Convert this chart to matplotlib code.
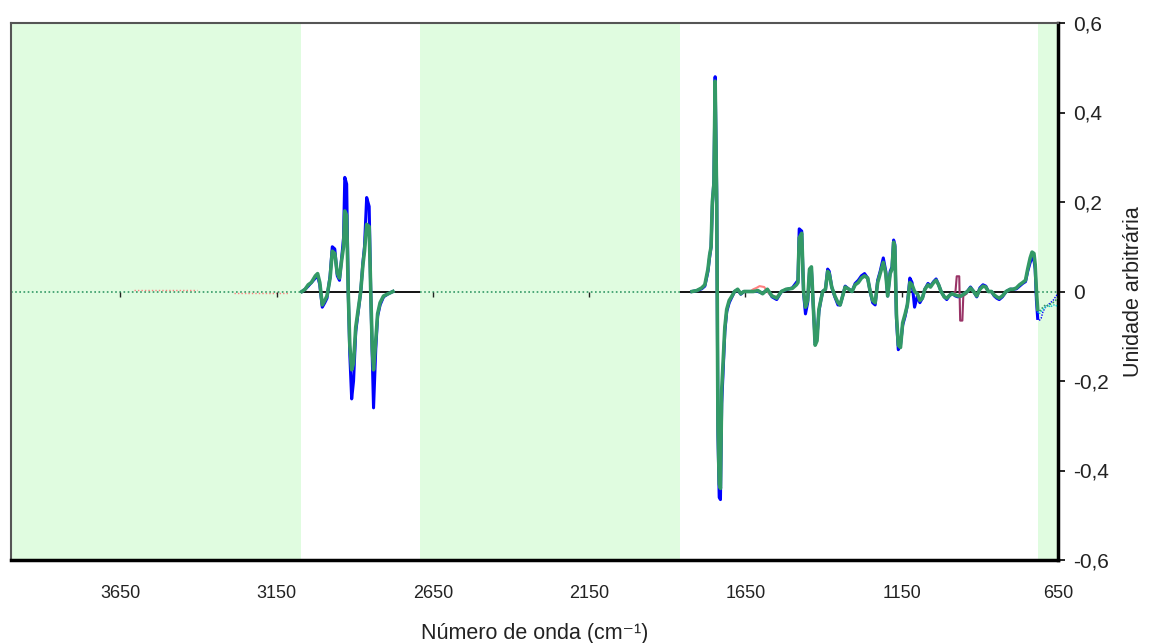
import matplotlib
matplotlib.use('Agg')
import matplotlib.pyplot as plt

plt.rcParams['font.family'] = ['Liberation Sans', 'DejaVu Sans']

# C-H stretching window
ch_wn = [3069, 3059, 3049, 3039, 3026, 3019, 3012, 3004, 2996, 2989,
         2979, 2972, 2964, 2956, 2949, 2942, 2936, 2932, 2926, 2921,
         2916, 2910, 2904, 2897, 2889, 2881, 2874, 2869, 2862, 2854,
         2849, 2844, 2840, 2833, 2827, 2819, 2808, 2793, 2778]
ch_green = [0.0, 0.005, 0.015, 0.02, 0.035, 0.04, 0.02, -0.03, -0.02, -0.01,
            0.03, 0.09, 0.085, 0.04, 0.03, 0.07, 0.10, 0.18, 0.17, 0.0,
            -0.12, -0.175, -0.16, -0.08, -0.04, 0.0, 0.06, 0.09, 0.15, 0.145,
            0.0, -0.13, -0.175, -0.11, -0.05, -0.025, -0.01, -0.005, 0.0]
ch_blue = [0.0, 0.005, 0.012, 0.02, 0.03, 0.035, 0.015, -0.035, -0.025, -0.015,
           0.035, 0.10, 0.095, 0.035, 0.025, 0.075, 0.12, 0.255, 0.24, 0.0,
           -0.14, -0.24, -0.2, -0.09, -0.045, 0.0, 0.065, 0.1, 0.21, 0.19,
           0.0, -0.15, -0.26, -0.13, -0.055, -0.03, -0.012, -0.005, 0.0]

# fingerprint window
fp_wn = [1821, 1806, 1790, 1780, 1770, 1765, 1760, 1756, 1751, 1747,
         1742, 1738, 1734, 1730, 1726, 1721, 1716, 1710, 1702, 1693,
         1685, 1675, 1665, 1655, 1640, 1625, 1610, 1595, 1580, 1565,
         1550, 1535, 1520, 1500, 1487, 1482, 1478, 1470, 1464, 1458,
         1451, 1445, 1439, 1433, 1427, 1421, 1415, 1409, 1403, 1394,
         1387, 1382, 1374, 1364, 1354, 1347, 1339, 1331, 1319, 1309,
         1299, 1289, 1279, 1269, 1259, 1251, 1243, 1235, 1227, 1219,
         1209, 1201, 1195, 1187, 1181, 1176, 1172, 1167, 1161, 1154,
         1147, 1139, 1132, 1124, 1117, 1109, 1100, 1092, 1084, 1076,
         1066, 1058, 1048, 1040, 1032, 1024, 1014, 1006, 996, 988,
         978, 970, 960, 950, 940, 930, 920, 910, 900, 890,
         881, 873, 863, 854, 846, 838, 828, 816, 803, 793,
         783, 773, 763, 754, 747, 739, 733, 727, 723, 719,
         715]
fp_green = [0.0, 0.002, 0.008, 0.015, 0.05, 0.08, 0.1, 0.2, 0.24, 0.47,
            0.2, -0.3, -0.43, -0.44, -0.22, -0.15, -0.08, -0.04, -0.02, -0.01,
            0.0, 0.005, -0.005, 0.0, 0.0, 0.0, 0.002, -0.005, 0.005, -0.01,
            -0.015, 0.0, 0.005, 0.007, 0.015, 0.02, 0.12, 0.13, 0.0, -0.035,
            -0.02, 0.05, 0.055, -0.03, -0.12, -0.11, -0.04, -0.02, 0.0, 0.005,
            0.045, 0.04, 0.01, -0.01, -0.025, -0.03, -0.01, 0.01, 0.005, 0.0,
            0.015, 0.02, 0.03, 0.035, 0.03, 0.0, -0.02, -0.025, 0.02, 0.04,
            0.065, 0.04, -0.01, 0.04, 0.05, 0.11, 0.1, -0.05, -0.12, -0.125,
            -0.07, -0.05, -0.03, 0.02, 0.015, 0.0, -0.005, -0.02, -0.015, 0.005,
            0.015, 0.01, 0.02, 0.025, 0.015, 0.0, -0.012, -0.015, -0.008, -0.005,
            -0.008, -0.01, -0.01, -0.005, 0.0, 0.008, 0.0, -0.01, 0.005, 0.012,
            0.01, 0.0, 0.0, -0.008, -0.012, -0.015, -0.01, 0.0, 0.005, 0.005,
            0.008, 0.015, 0.02, 0.025, 0.05, 0.075, 0.088, 0.085, 0.06, 0.0,
            -0.04]
fp_blue = [0.0, 0.002, 0.006, 0.012, 0.045, 0.075, 0.1, 0.19, 0.25, 0.48,
           0.22, -0.32, -0.46, -0.465, -0.25, -0.17, -0.09, -0.045, -0.025, -0.012,
           0.0, 0.004, -0.006, 0.0, 0.0, 0.0, 0.0, -0.004, 0.004, -0.012,
           -0.018, 0.0, 0.004, 0.008, 0.02, 0.025, 0.14, 0.135, -0.005, -0.05,
           -0.025, 0.045, 0.05, -0.035, -0.115, -0.1, -0.045, -0.02, 0.0, 0.005,
           0.05, 0.045, 0.01, -0.012, -0.03, -0.03, -0.01, 0.012, 0.005, 0.0,
           0.018, 0.025, 0.035, 0.04, 0.03, 0.0, -0.025, -0.03, 0.025, 0.045,
           0.075, 0.045, -0.01, 0.045, 0.055, 0.115, 0.105, -0.06, -0.13, -0.12,
           -0.075, -0.055, -0.03, 0.03, 0.02, -0.035, -0.01, -0.025, -0.015, 0.005,
           0.018, 0.012, 0.022, 0.028, 0.015, 0.0, -0.012, -0.018, -0.008, -0.005,
           -0.01, -0.012, -0.01, -0.005, 0.0, 0.01, 0.0, -0.012, 0.008, 0.015,
           0.012, 0.0, 0.0, -0.01, -0.015, -0.018, -0.012, 0.0, 0.005, 0.005,
           0.006, 0.012, 0.018, 0.022, 0.045, 0.065, 0.075, 0.07, 0.05, -0.02,
           -0.06]

# sample that differs around 970 cm-1
purple_wn = [988, 978, 974, 966, 963, 956, 953, 943]
purple_val = [-0.005, 0.0, 0.034, 0.034, -0.065, -0.065, -0.01, -0.005]

# small deviations of one sample near 1600 cm-1
salmon_wn = [1635, 1625, 1615, 1605, 1590, 1580, 1570, 1560, 1550]
salmon_val = [0.0, 0.005, 0.008, 0.012, 0.01, 0.0, -0.008, -0.01, -0.012]

# excluded low-wavenumber tail
tail_wn = [715, 710, 704, 698, 690, 682, 674, 666, 658, 651]
tail_green = [-0.04, -0.045, -0.04, -0.035, -0.03, -0.032, -0.028, -0.025, -0.02, -0.015]
tail_blue = [-0.06, -0.065, -0.06, -0.045, -0.035, -0.03, -0.025, -0.02, -0.012, -0.005]
tail_cyan = [-0.045, -0.05, -0.045, -0.04, -0.035, -0.03, -0.035, -0.03, -0.03, -0.035]

# noise of one sample in the excluded high region
noise1_wn = [3606, 3404]
noise1_val = [0.004, 0.004]
noise2_wn = [3285, 3114]
noise2_val = [-0.004, -0.004]

excluded = [(4000, 3072), (2691, 1859), (714, 650)]
xticks = [3650, 3150, 2650, 2150, 1650, 1150, 650]
yticks = [-0.6, -0.4, -0.2, 0, 0.2, 0.4, 0.6]
ylabels = ['-0,6', '-0,4', '-0,2', '0', '0,2', '0,4', '0,6']

GREEN = '#339966'
fig = plt.figure(figsize=(11.49, 6.43), dpi=100)
ax = fig.add_axes([11 / 1149, 1 - 560 / 643, 1047 / 1149, 537 / 643])
ax.set_xlim(4000, 650)
ax.set_ylim(-0.6, 0.6)

# x axis line at zero with its tick marks
ax.axhline(0, color='black', lw=1.3, zorder=0.5)
for lo, hi in excluded:
    ax.axvspan(hi, lo, color='#e0fce0', lw=0, zorder=1)
    ax.plot([lo, hi], [0, 0], color=GREEN, lw=1.2, ls=(0, (1, 1.5)), zorder=2)
ax.vlines(xticks[:-1], -0.012, 0, color='#222222', lw=1, zorder=3)

ax.plot(noise1_wn, noise1_val, color='#ff8080', lw=1, ls=(0, (1, 1.5)), zorder=2)
ax.plot(noise2_wn, noise2_val, color='#ff8080', lw=1, ls=(0, (1, 1.5)), zorder=2)
ax.plot([3072, 3069], [0, 0], color=GREEN, lw=1.5, zorder=3)

# spectra
ax.plot(ch_wn, ch_blue, color='#0000ff', lw=2.2, zorder=3)
ax.plot(fp_wn, fp_blue, color='#0000ff', lw=2.2, zorder=3)
ax.plot(purple_wn, purple_val, color='#993366', lw=1.5, zorder=4)
ax.plot(salmon_wn, salmon_val, color='#ff8080', lw=1.5, zorder=4)
ax.plot(ch_wn, ch_green, color=GREEN, lw=2.6, zorder=5)
ax.plot(fp_wn, fp_green, color=GREEN, lw=2.6, zorder=5)
ax.plot(tail_wn, tail_blue, color='#0000ff', lw=1, ls=(0, (1, 1)), zorder=4)
ax.plot(tail_wn, tail_cyan, color='#00cccc', lw=1, ls=(0, (1, 1)), zorder=4)
ax.plot(tail_wn, tail_green, color=GREEN, lw=1.2, ls=(0, (1, 1)), zorder=4)

# frame
for side in ['left', 'top']:
    ax.spines[side].set_color('#555555')
    ax.spines[side].set_linewidth(1.5)
for side in ['right', 'bottom']:
    ax.spines[side].set_color('black')
    ax.spines[side].set_linewidth(2.5)

ax.set_xticks(xticks)
ax.set_xticklabels([str(t) for t in xticks], fontsize=13, color='#222222')
ax.tick_params(axis='x', length=0, pad=18)
ax.yaxis.tick_right()
ax.set_yticks(yticks)
ax.set_yticklabels(ylabels, fontsize=15, color='#222222')
ax.tick_params(axis='y', direction='out', length=5, width=1.2, pad=6)
ax.yaxis.set_label_position('right')
ax.set_ylabel('Unidade arbitrária', fontsize=15.5, color='#222222', labelpad=10)
ax.set_xlabel('Número de onda (cm⁻¹)', fontsize=15.5, color='#222222', labelpad=15)

fig.savefig('out.png', dpi=100)
